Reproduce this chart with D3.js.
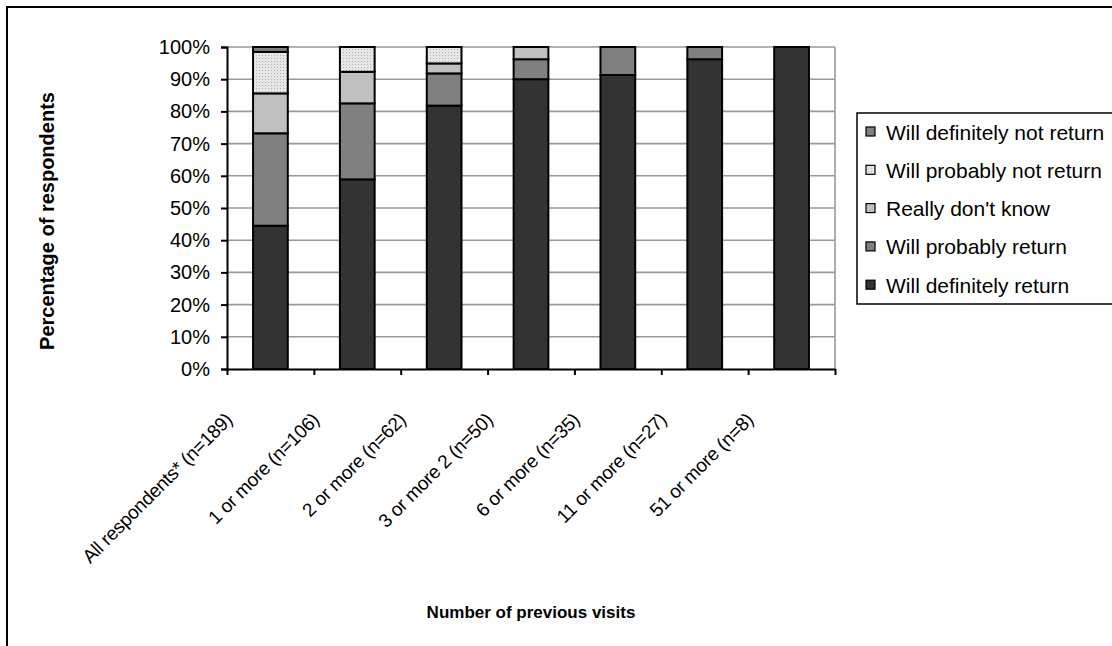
<!DOCTYPE html>
<html><head><meta charset="utf-8">
<script src="https://cdn.jsdelivr.net/npm/d3@7"></script>
<style>
html,body{margin:0;padding:0;background:#fff;}
svg text{font-family:"Liberation Sans",Arial,sans-serif;fill:#000;}
</style></head>
<body>
<svg id="chart" width="1112" height="646"></svg>
<script>
const categories = ["All respondents* (n=189)","1 or more (n=106)","2 or more (n=62)","3 or more 2 (n=50)","6 or more (n=35)","11 or more (n=27)","51 or more (n=8)"];
const seriesNames = ["Will definitely return","Will probably return","Really don't know","Will probably not return","Will definitely not return"];
const definitelyReturn = [44.5, 58.9, 81.8, 90.0, 91.3, 96.2, 100];
const probablyReturn   = [28.7, 23.6, 10.0, 6.2, 8.7, 3.8, 0];
const dontKnow         = [12.4, 9.8, 3.1, 3.8, 0, 0, 0];
const probablyNot      = [12.9, 7.7, 5.1, 0, 0, 0, 0];
const definitelyNot    = [1.5, 0, 0, 0, 0, 0, 0];
const yTicks = [0,10,20,30,40,50,60,70,80,90,100];
const legendOrder = ["Will definitely not return","Will probably not return","Really don't know","Will probably return","Will definitely return"];

const seriesValues = [definitelyReturn, probablyReturn, dontKnow, probablyNot, definitelyNot];
const fills = {
  "Will definitely return":"#333333",
  "Will probably return":"#808080",
  "Really don't know":"#c0c0c0",
  "Will probably not return":"url(#dots)",
  "Will definitely not return":"#808080"
};

const svg = d3.select("#chart");
const defs = svg.append("defs");
const pat = defs.append("pattern").attr("id","dots").attr("patternUnits","userSpaceOnUse").attr("width",3).attr("height",3);
pat.append("rect").attr("width",3).attr("height",3).attr("fill","#e6e6e6");
pat.append("rect").attr("x",1).attr("y",1).attr("width",1).attr("height",1).attr("fill","#b0b0b0");

// outer frame
svg.append("rect").attr("x",7).attr("y",7).attr("width",1130).attr("height",660)
  .attr("fill","none").attr("stroke","#000").attr("stroke-width",2);

const L=227, R=835, T=47, B=369;
const x = d3.scaleBand().domain(categories).range([L,R]).paddingInner(0.6).paddingOuter(0.3);
const y = d3.scaleLinear().domain([0,100]).range([B,T]);

// gridlines
svg.append("g").selectAll("line").data(yTicks.filter(d=>d>0)).join("line")
  .attr("x1",L).attr("x2",R).attr("y1",d=>y(d)).attr("y2",d=>y(d))
  .attr("stroke","#999").attr("stroke-width",1.6);
svg.append("line").attr("x1",R).attr("x2",R).attr("y1",T).attr("y2",B)
  .attr("stroke","#999").attr("stroke-width",1.6);

// stacked data
const table = categories.map((c,i)=>{
  const o={cat:c};
  seriesNames.forEach((s,k)=>o[s]=seriesValues[k][i]);
  return o;
});
const stacked = d3.stack().keys(seriesNames)(table);
svg.append("g").selectAll("g").data(stacked).join("g")
  .attr("fill",d=>fills[d.key])
  .selectAll("rect").data(d=>d.filter(p=>p[1]-p[0]>0)).join("rect")
  .attr("x",d=>x(d.data.cat)).attr("width",x.bandwidth())
  .attr("y",d=>y(d[1])).attr("height",d=>y(d[0])-y(d[1]))
  .attr("stroke","#000").attr("stroke-width",2);

// y axis
const yAxis = svg.append("g").attr("transform",`translate(${L},0)`)
  .call(d3.axisLeft(y).tickValues(yTicks).tickFormat(d=>d+"%").tickSize(6).tickPadding(11));
yAxis.select(".domain").attr("stroke","#000").attr("stroke-width",2);
yAxis.selectAll(".tick line").attr("stroke","#000").attr("stroke-width",2);
yAxis.selectAll(".tick text").style("font-size","20px").attr("font-family",null);

// x axis (ticks at category boundaries)
const xb = d3.scaleLinear().domain([0,categories.length]).range([L,R]);
const xAxis = svg.append("g").attr("transform",`translate(0,${B})`)
  .call(d3.axisBottom(xb).tickValues(d3.range(categories.length+1)).tickFormat("").tickSize(6).tickSizeOuter(0));
xAxis.select(".domain").attr("stroke","#000").attr("stroke-width",2);
xAxis.selectAll(".tick line").attr("stroke","#000").attr("stroke-width",2);

// category labels
svg.append("g").selectAll("text").data(categories).join("text")
  .attr("transform",d=>`translate(${x(d)+x.bandwidth()/2-37},${421}) rotate(-45)`)
  .attr("text-anchor","end")
  .style("font-size","19px").style("letter-spacing","-0.3px")
  .text(d=>d);

// axis titles
svg.append("text").attr("transform","translate(54,221) rotate(-90)")
  .attr("text-anchor","middle").style("font-size","20px").style("font-weight","bold")
  .text("Percentage of respondents");
svg.append("text").attr("x",531).attr("y",618)
  .attr("text-anchor","middle").style("font-size","17px").style("font-weight","bold")
  .text("Number of previous visits");

// legend
const lg = svg.append("g");
lg.append("rect").attr("x",857).attr("y",113).attr("width",300).attr("height",191)
  .attr("fill","#fff").attr("stroke","#000").attr("stroke-width",1.5);
const rows = lg.selectAll("g.row").data(legendOrder).join("g").attr("class","row")
  .attr("transform",(d,i)=>`translate(0,${132+i*38.3})`);
rows.append("rect").attr("x",866).attr("y",-5).attr("width",9).attr("height",9)
  .attr("fill",d=>fills[d]).attr("stroke","#000").attr("stroke-width",1.2);
rows.append("text").attr("x",886).attr("dy","0.36em").style("font-size","21px").text(d=>d);
</script>
</body></html>
